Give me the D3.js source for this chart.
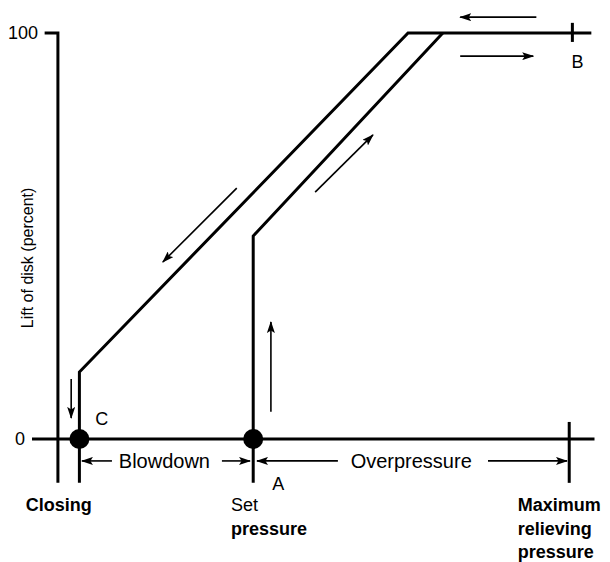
<!DOCTYPE html>
<html>
<head>
<meta charset="utf-8">
<script src="https://cdn.jsdelivr.net/npm/d3@7"></script>
<style>
  body { margin: 0; background: #fff; }
  svg { display: block; }
  text { font-family: "Liberation Sans", Arial, Helvetica, sans-serif; fill: #000; }
</style>
</head>
<body>
<div id="chart"></div>
<script>
// Pressure in % of set pressure, lift in % of full lift
const closingPressure = 94.5
const setPressure = 100
const maxPressure = 110
const axisBottom = -10.8

const closingCurve = [[94.5, axisBottom], [94.5, 16.5], [104.9, 100], [110.7, 100]]
const openingCurve = [[100, axisBottom], [100, 50], [106, 100]]
const maxLine = [[110, axisBottom], [110, 4.2]]
const bTick = [[110.1, 102.5], [110.1, 97.8]]

const yTicks = [0, 100]
const yTickLabels = ['0', '100']

// [from, to] — arrowhead at "to"
const flowArrows = [
  [[108.96, 103.9], [106.55, 103.9]],
  [[106.55, 94.3], [108.86, 94.3]],
  [[99.48, 61.8], [97.14, 43.6]],
  [[101.96, 60.8], [103.79, 74.9]],
  [[100.56, 6.7], [100.56, 28.8]],
  [[94.24, 14.8], [94.24, 5.2]]
]

const dimLift = -5.4
const dimArrows = [
  [95.53, 94.58],
  [99.01, 99.9],
  [102.68, 100.12],
  [107.43, 109.93]
]
const dimLabels = [
  { text: 'Blowdown', p: 97.19 },
  { text: 'Overpressure', p: 105.0 }
]

const pointLabels = [
  { text: 'C', p: 95.0, lift: 5.1 },
  { text: 'B', p: 110.07, lift: 92.9 },
  { text: 'A', p: 100.6, lift: -11.1 }
]

const bottomLabels = [
  { lines: ['Closing'], bold: [true], p: 92.8 },
  { lines: ['Set', 'pressure'], bold: [false, true], p: 99.3 },
  { lines: ['Maximum', 'relieving', 'pressure'], bold: [true, true, true], p: 108.37 }
]

const W = 610, H = 562

const x = d3.scaleLinear().domain([93, 110.8]).range([32, 594.5])
const y = d3.scaleLinear().domain([0, 100]).range([439, 33])
const yAxisP = 93.82

const svg = d3.select('#chart').append('svg')
  .attr('width', W).attr('height', H)

svg.append('rect').attr('width', W).attr('height', H).attr('fill', '#fff')

svg.append('defs').append('marker')
  .attr('id', 'head')
  .attr('viewBox', '0 -4 12 8')
  .attr('refX', 11).attr('refY', 0)
  .attr('markerUnits', 'userSpaceOnUse')
  .attr('markerWidth', 12).attr('markerHeight', 8)
  .attr('orient', 'auto')
  .append('path')
  .attr('d', 'M0,-4L12,0L0,4L2.5,0Z')
  .attr('fill', '#000')

const line = d3.line().x(d => x(d[0])).y(d => y(d[1]))

// Axes
svg.append('path')
  .attr('d', line([[93.4, 100], [yAxisP, 100], [yAxisP, axisBottom]]))
  .attr('fill', 'none').attr('stroke', '#000').attr('stroke-width', 3)
  .attr('stroke-linejoin', 'miter')

svg.append('line')
  .attr('x1', x(93)).attr('x2', x(110.8))
  .attr('y1', y(0)).attr('y2', y(0))
  .attr('stroke', '#000').attr('stroke-width', 3)

svg.selectAll('.ytick')
  .data(yTicks)
  .enter().append('text')
  .attr('class', 'ytick')
  .attr('x', (d, i) => x(93) + (i === 0 ? -7 : 6))
  .attr('y', d => y(d))
  .attr('dy', '0.35em')
  .attr('text-anchor', 'end')
  .style('font-size', '18px')
  .text((d, i) => yTickLabels[i])

svg.append('text')
  .attr('transform', `translate(27,${(y(100) + y(axisBottom)) / 2}) rotate(-90)`)
  .attr('text-anchor', 'middle')
  .attr('dy', '0.35em')
  .style('font-size', '16px')
  .text('Lift of disk (percent)')

// Curves
;[closingCurve, openingCurve, maxLine, bTick].forEach(c => {
  svg.append('path')
    .attr('d', line(c))
    .attr('fill', 'none').attr('stroke', '#000').attr('stroke-width', 3)
    .attr('stroke-linejoin', 'miter')
})

// Dots
svg.selectAll('.dot')
  .data([closingPressure, setPressure])
  .enter().append('circle')
  .attr('cx', d => x(d)).attr('cy', y(0)).attr('r', 10)
  .attr('fill', '#000')

// Flow arrows
svg.selectAll('.flow')
  .data(flowArrows)
  .enter().append('path')
  .attr('d', d => line(d))
  .attr('stroke', '#000').attr('stroke-width', 1.6).attr('fill', 'none')
  .attr('marker-end', 'url(#head)')

// Dimension arrows
svg.selectAll('.dim')
  .data(dimArrows)
  .enter().append('path')
  .attr('d', d => line([[d[0], dimLift], [d[1], dimLift]]))
  .attr('stroke', '#000').attr('stroke-width', 1.6).attr('fill', 'none')
  .attr('marker-end', 'url(#head)')

svg.selectAll('.dimlabel')
  .data(dimLabels)
  .enter().append('text')
  .attr('x', d => x(d.p)).attr('y', y(dimLift))
  .attr('dy', '0.35em')
  .attr('text-anchor', 'middle')
  .style('font-size', '20px')
  .text(d => d.text)

svg.selectAll('.plabel')
  .data(pointLabels)
  .enter().append('text')
  .attr('x', d => x(d.p)).attr('y', d => y(d.lift))
  .attr('dy', '0.35em')
  .style('font-size', '18px')
  .text(d => d.text)

// Bottom labels
bottomLabels.forEach(b => {
  const t = svg.append('text')
    .attr('x', x(b.p)).attr('y', 511)
    .style('font-size', '18px')
  b.lines.forEach((s, i) => {
    t.append('tspan')
      .attr('x', x(b.p))
      .attr('dy', i === 0 ? 0 : 23.5)
      .style('font-weight', b.bold[i] ? 'bold' : 'normal')
      .text(s)
  })
})
</script>
</body>
</html>
